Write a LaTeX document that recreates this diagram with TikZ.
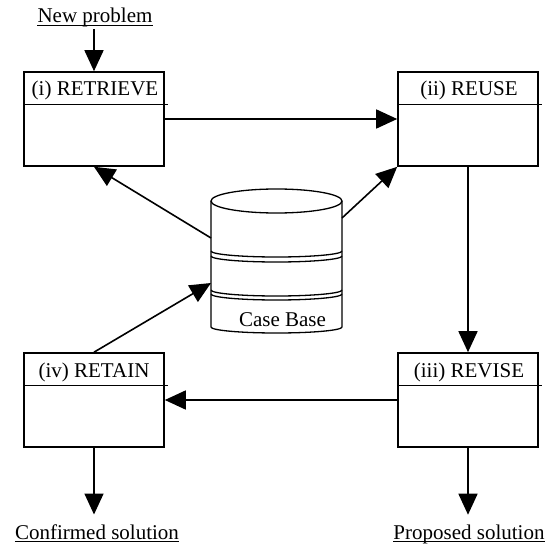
\documentclass[tikz,border=0pt]{standalone}
\usepackage{fontspec}
\setmainfont{Liberation Serif}
\usetikzlibrary{arrows.meta}
\begin{document}
\begin{tikzpicture}[x=1pt,y=-1pt,
  box/.style={draw,line width=1.6pt,minimum width=140pt,minimum height=94pt,inner sep=0pt},
  lbl/.style={font=\fontsize{21}{25}\selectfont,inner sep=0pt,anchor=base},
  ulbl/.style={lbl,inner ysep=10pt},
  arr/.style={line width=1.6pt,-{Triangle[length=21pt,width=19pt]}},
  divider/.style={line width=1.2pt},
  cyl/.style={line width=1.3pt},
  ul/.style={line width=0.9pt}]
\useasboundingbox[fill=white] (0,0) rectangle (548,545);
% boxes
\node[box] (retrieve) at (94,119) {};
\node[box] (reuse) at (468,119) {};
\node[box] (retain) at (94,400) {};
\node[box] (revise) at (468,400) {};
\foreach \b in {retrieve,reuse,retain,revise}
  \draw[divider] ([yshift=-33pt]\b.north west) -- ([yshift=-33pt,xshift=3pt]\b.north east);
% box titles
\node[lbl] (t1) at (95,96) {(i) RETRIEVE};
\node[lbl] (t2) at (469,96) {(ii) REUSE};
\node[lbl] (t4) at (94,377) {(iv) RETAIN};
\node[lbl] (t3) at (469,377) {(iii) REVISE};
% free texts
\node[lbl,inner ysep=1.5pt] (np) at (95,23) {New problem};
\node[ulbl] (cs) at (97,539.5) {Confirmed solution};
\node[ulbl] (ps) at (469,539.5) {Proposed solution};
\draw[ul] ([yshift=-2.5pt]np.base west) -- ([yshift=-2.5pt]np.base east);
\draw[ul] ([yshift=-2pt]cs.base west) -- ([yshift=-2pt]cs.base east);
\draw[ul] ([yshift=-2pt]ps.base west) -- ([yshift=-2pt]ps.base east);
% case base cylinder
\draw[cyl] (276.5,201) ellipse [x radius=65.5pt, y radius=12pt];
\draw[cyl] (211,201) -- (211,327) arc[start angle=180,end angle=360,x radius=65.5pt,y radius=6pt] -- (342,201);
\foreach \yy in {251,256,290,294}
  \draw[cyl] (211,\yy) arc[start angle=180,end angle=360,x radius=65.5pt,y radius=6pt];
\node[lbl] (cb) at (282.5,326) {Case Base};
\coordinate (cylA) at (211,238);
\coordinate (cylB) at (342,218);
\coordinate (cylC) at (211,283);
% connectors
\draw[arr] (np.south -| retrieve.north) -- (retrieve.north);
\draw[arr] (retrieve.east) -- (reuse.west);
\draw[arr] (reuse.south) -- (revise.north);
\draw[arr] (revise.west) -- (retain.east);
\draw[arr] (retain.south) -- (retain.south |- cs.north);
\draw[arr] (revise.south) -- (revise.south |- ps.north);
\draw[arr] (cylA) -- (retrieve.south);
\draw[arr] (cylB) -- (reuse.south west);
\draw[arr] (retain.north) -- (cylC);
\end{tikzpicture}
\end{document}
